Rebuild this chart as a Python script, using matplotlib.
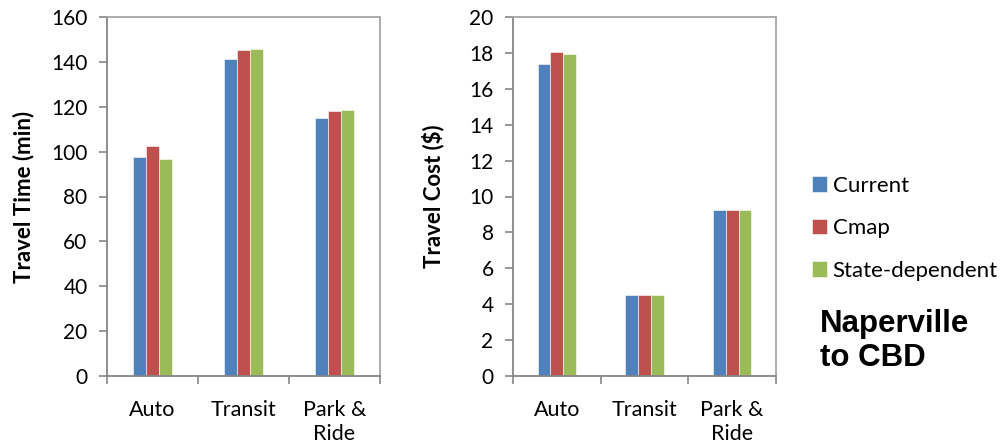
import matplotlib.pyplot as plt
import numpy as np

modes = ["Auto", "Transit", "Park &\nRide"]
series = ["Current", "Cmap", "State-dependent"]
colors = ["#4F81BD", "#C0504D", "#9BBB59"]

time_current = [97.7, 141.3, 115.1]
time_cmap = [102.6, 145.1, 118.1]
time_state = [96.8, 145.7, 118.7]

cost_current = [17.4, 4.5, 9.25]
cost_cmap = [18.05, 4.5, 9.25]
cost_state = [17.95, 4.5, 9.25]

plt.rcParams["font.family"] = ["Lato", "DejaVu Sans"]

fig = plt.figure(figsize=(10.06, 4.46), dpi=100)
ax1 = fig.add_axes([107 / 1006, 70 / 446, 273 / 1006, 359 / 446])
ax2 = fig.add_axes([513 / 1006, 70 / 446, 263 / 1006, 359 / 446])

x = np.arange(len(modes))
w = 0.145


def draw(ax, vals, ymax, step, ylabel, lpad):
    for i, (v, c, name) in enumerate(zip(vals, colors, series)):
        ax.bar(x + (i - 1) * w, v, w, color=c, edgecolor="white",
               linewidth=0.4, label=name, zorder=2)
    ax.set_xlim(-0.5, 2.5)
    ax.set_ylim(0, ymax)
    ax.set_yticks(np.arange(0, ymax + step / 2, step))
    ax.set_xticks(x)
    ax.set_xticklabels(modes, linespacing=1.25)
    ax.set_xticks([-0.5, 0.5, 1.5, 2.5], minor=True)
    ax.tick_params(axis="x", which="major", length=0, pad=17, labelsize=15.5)
    ax.tick_params(axis="x", which="minor", length=6, color="#868686",
                   width=1.2)
    ax.tick_params(axis="y", length=6, color="#868686", width=1.2,
                   labelsize=15, pad=8)
    for s in ["left", "bottom"]:
        ax.spines[s].set_color("#868686")
        ax.spines[s].set_linewidth(1.3)
    for s in ["top", "right"]:
        ax.spines[s].set_color("#a6a6a6")
        ax.spines[s].set_linewidth(1.3)
    ax.set_ylabel(ylabel, fontsize=16, fontweight="bold", labelpad=lpad)


draw(ax1, [time_current, time_cmap, time_state], 160, 20,
     "Travel Time (min)", 12)
draw(ax2, [cost_current, cost_cmap, cost_state], 20, 2,
     "Travel Cost ($)", 18)

handles, labels = ax2.get_legend_handles_labels()
fig.legend(handles, labels, loc="upper left",
           bbox_to_anchor=(796 / 1006, 1 - 160 / 446),
           frameon=False, fontsize=16, handlelength=0.7, handleheight=0.7,
           handletextpad=0.25, labelspacing=1.02, borderpad=0.2)

# two-line place caption
bold = dict(fontsize=22.5, fontweight="bold",
            family=["Liberation Sans", "DejaVu Sans"], va="baseline",
            ha="left")
fig.text(820 / 1006, 1 - 332 / 446, "Naperville", **bold)
fig.text(820 / 1006, 1 - 366 / 446, "to CBD", **bold)

fig.savefig("out.png", dpi=100)
